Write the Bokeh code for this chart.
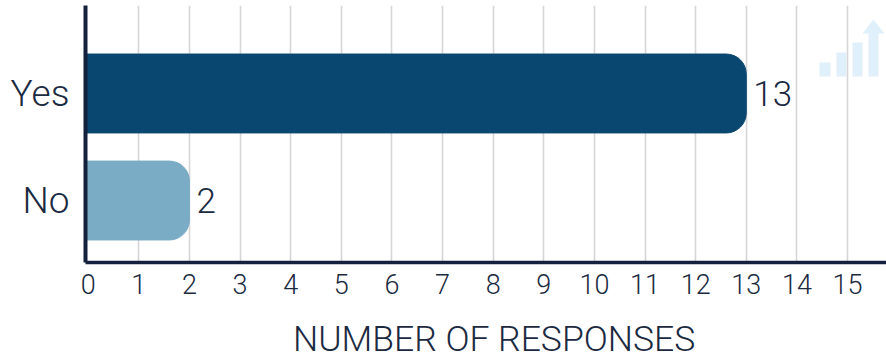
from bokeh.embed import file_html
from bokeh.layouts import column
from bokeh.resources import INLINE
from bokeh.plotting import figure
from bokeh.models import (ColumnDataSource, Range1d, FixedTicker, BoxAnnotation,
                          PolyAnnotation)
from bokeh.core.properties import value

categories = ["No", "Yes"]
responses = [2, 13]
bar_colors = ["#7aacc5", "#0a4770"]
x_ticks = list(range(16))
grid_ticks = x_ticks[1:]
x_axis_title = "NUMBER OF RESPONSES"

FONT = "Roboto Light"
INK = "#1b2a41"
AXIS_INK = "#14213d"
WIDTH = 886
CHART_HEIGHT = 310
CAPTION_HEIGHT = 48
FRAME_LEFT = 85
FRAME_TOP = 5
FRAME_BOTTOM = 262
X_START = -0.053
X_END = 15.77

positions = list(range(len(categories)))
source = ColumnDataSource(dict(y=positions, right=responses, color=bar_colors,
                               label=[str(r) for r in responses]))

p = figure(width=WIDTH, height=CHART_HEIGHT, output_backend="svg", toolbar_location=None,
           x_range=Range1d(X_START, X_END), y_range=Range1d(-0.579, 1.822),
           min_border_left=FRAME_LEFT, min_border_right=0, min_border_top=FRAME_TOP,
           min_border_bottom=CHART_HEIGHT - FRAME_BOTTOM, outline_line_color=None,
           background_fill_color="white", border_fill_color="white")

# Vertical guide lines only; the zero position sits under the axis line
p.xgrid.ticker = FixedTicker(ticks=grid_ticks)
p.xgrid.grid_line_color = "#d6d6d6"
p.xgrid.grid_line_width = 1.6
p.ygrid.visible = False

# Small rising-bars mark in the upper right corner.
# Screen units count from the frame's left and bottom edges.
ICON = "#dff0fa"
for left, right, top in [(819, 830, 62), (836, 846, 52), (852, 862, 42), (868, 878, 32)]:
    p.add_layout(BoxAnnotation(left=left - FRAME_LEFT, right=right - FRAME_LEFT,
                               top=FRAME_BOTTOM - top, bottom=FRAME_BOTTOM - 76,
                               left_units="screen", right_units="screen",
                               top_units="screen", bottom_units="screen",
                               fill_color=ICON, fill_alpha=1, line_color=None,
                               level="underlay"))
p.add_layout(PolyAnnotation(xs=[x - FRAME_LEFT for x in (862, 873, 884)],
                            ys=[FRAME_BOTTOM - y for y in (33, 19, 33)],
                            xs_units="screen", ys_units="screen",
                            fill_color=ICON, fill_alpha=1, line_color=None,
                            level="underlay"))

# Bars start at the axis line so no gap shows beside it
p.hbar(y="y", left=X_START, right="right", height=0.737, color="color", source=source,
       border_radius=(0, 20, 20, 0))

p.text(x="right", y="y", text="label", source=source, x_offset=7,
       text_font=value(FONT), text_font_size="35px", text_color=INK,
       text_align="left", text_baseline="middle")

p.xaxis.ticker = FixedTicker(ticks=x_ticks)
p.xaxis.axis_line_color = AXIS_INK
p.xaxis.axis_line_width = 3.5
p.xaxis.major_tick_line_color = None
p.xaxis.minor_tick_line_color = None
p.xaxis.major_label_text_font = FONT
p.xaxis.major_label_text_font_size = "27px"
p.xaxis.major_label_text_color = INK
p.xaxis.major_label_standoff = 5

p.yaxis.ticker = FixedTicker(ticks=positions)
p.yaxis.major_label_overrides = dict(zip(positions, categories))
p.yaxis.axis_line_color = AXIS_INK
p.yaxis.axis_line_width = 4
p.yaxis.major_tick_line_color = None
p.yaxis.minor_tick_line_color = None
p.yaxis.major_label_text_font = FONT
p.yaxis.major_label_text_font_size = "37px"
p.yaxis.major_label_text_color = INK
p.yaxis.major_label_standoff = 10

# The axis caption lives in its own strip under the chart, measured in pixels
caption = figure(width=WIDTH, height=CAPTION_HEIGHT, output_backend="svg",
                 toolbar_location=None, x_range=Range1d(0, WIDTH),
                 y_range=Range1d(0, CAPTION_HEIGHT), min_border=0,
                 outline_line_color=None, x_axis_type=None, y_axis_type=None)
caption.grid.visible = False
caption.text(x=[452], y=[20], text=[x_axis_title], text_font=value(FONT),
             text_font_size="35.5px", text_color=INK,
             text_align="center", text_baseline="middle")

layout = column(p, caption, spacing=0)

open("out.html", "w").write(file_html(layout, INLINE))
